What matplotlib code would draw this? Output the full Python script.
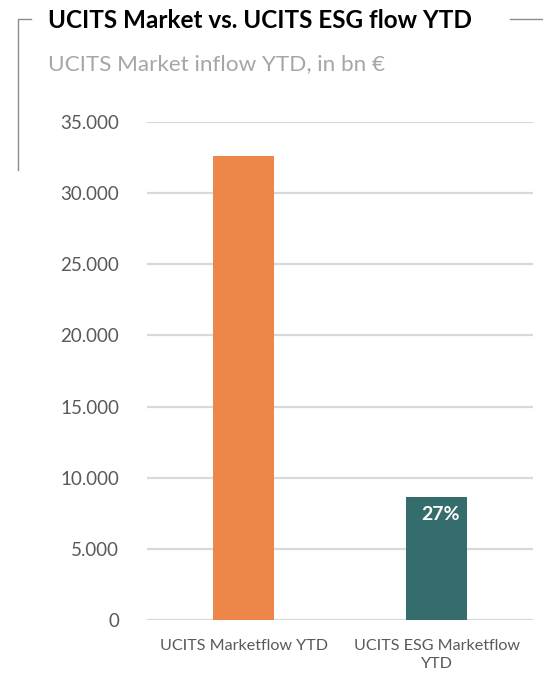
import numpy as np
import matplotlib.pyplot as plt
from matplotlib.lines import Line2D

plt.rcParams['font.family'] = ['Lato', 'DejaVu Sans']

categories = ['UCITS Marketflow YTD', 'UCITS ESG Marketflow\nYTD']
values = [32600, 8650]
colors = ['#EE8549', '#356D6C']
share_label = '27%'
yticks = np.arange(0, 35001, 5000)
ytick_labels = ['0', '5.000', '10.000', '15.000', '20.000', '25.000', '30.000', '35.000']

W, H = 543, 673
fig = plt.figure(figsize=(W / 100, H / 100), dpi=100)

# axes box in pixels: x 147..533, y 122..620
ax = fig.add_axes([147 / W, 1 - 620 / H, (533 - 147) / W, (620 - 122) / H])
x = np.arange(len(categories))
ax.bar(x, values, width=0.316, color=colors, zorder=3)
ax.set_xlim(-0.5, 1.5)
ax.set_ylim(0, 35000)
ax.set_yticks(yticks)
ax.set_yticklabels(ytick_labels)
ax.set_xticks(x)
ax.set_xticklabels(categories)
ax.yaxis.grid(True, color='#D9D9D9', linewidth=1.6, zorder=0)
for s in ax.spines.values():
    s.set_visible(False)
ax.tick_params(axis='y', length=0, pad=20, labelsize=13.5, labelcolor='#595959')
ax.tick_params(axis='x', length=0, pad=14, labelsize=11.6, labelcolor='#595959')
for lbl in ax.get_xticklabels():
    lbl.set_linespacing(1.35)
    lbl.set_verticalalignment('top')

ax.text(x[1] + 0.02, values[1] - 1250, share_label, ha='center', va='center',
        color='white', fontsize=14, fontweight='bold', zorder=4)

# title and subtitle
fig.text(48 / W, 1 - 20 / H, 'UCITS Market vs. UCITS ESG flow YTD', ha='left', va='center',
         fontsize=17.5, fontweight='bold', color='black')
fig.text(48 / W, 1 - 64 / H, 'UCITS Market inflow YTD, in bn \u20ac', ha='left', va='center',
         fontsize=16.2, color='#A6A6A6')

# bracket lines
lc = '#8C8C8C'
fig.add_artist(Line2D([18 / W, 18 / W, 31 / W], [1 - 170 / H, 1 - 19 / H, 1 - 19 / H],
                      color=lc, linewidth=1.0))
fig.add_artist(Line2D([510 / W, 543 / W], [1 - 19 / H, 1 - 19 / H], color=lc, linewidth=1.0))

fig.savefig('out.png', dpi=100)
